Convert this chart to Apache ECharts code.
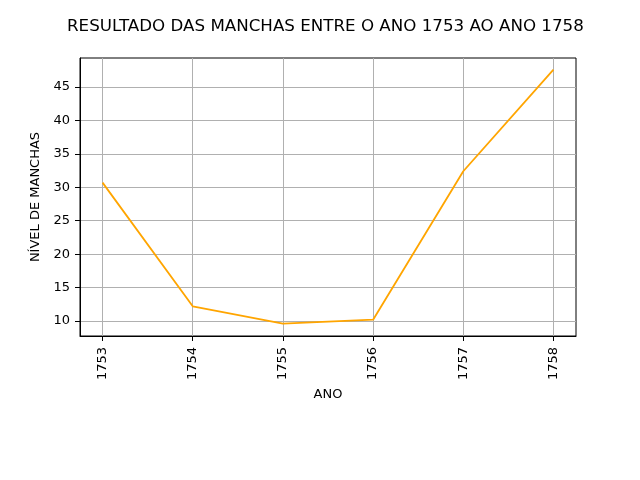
<!DOCTYPE html>
<html><head><meta charset="utf-8">
<script src="https://cdn.jsdelivr.net/npm/echarts@6/dist/echarts.min.js"></script>
<style>html,body{margin:0;padding:0;background:#fff}#c{width:640px;height:480px}</style>
</head><body><div id="c"></div>
<script>
const years = [1753, 1754, 1755, 1756, 1757, 1758];
const manchas = [30.7, 12.2, 9.6, 10.2, 32.4, 47.6];
const yTicks = [10, 15, 20, 25, 30, 35, 40, 45];
const titleText = 'RESULTADO DAS MANCHAS ENTRE O ANO 1753 AO ANO 1758';
const xName = 'ANO';
const yName = 'NÍVEL DE MANCHAS';

const font = 'DejaVu Sans';
const chart = echarts.init(document.getElementById('c'), null, {renderer: 'canvas'});
chart.setOption({
  animation: false,
  backgroundColor: '#fff',
  title: {text: titleText, left: 62, top: 13,
    textStyle: {fontFamily: font, fontSize: 16.7, fontWeight: 'normal', color: '#000'}},
  grid: {left: 80, right: 64, top: 58, bottom: 144, show: true, borderColor: '#000', borderWidth: 1, backgroundColor: 'transparent'},
  xAxis: {
    type: 'value', min: 1752.75, max: 1758.25,
    name: xName, nameLocation: 'middle', nameGap: 52,
    nameTextStyle: {fontFamily: font, fontSize: 13, color: '#000'},
    axisLine: {show: true, onZero: false, lineStyle: {color: '#000', width: 1}},
    axisTick: {show: true, length: 5, customValues: years, lineStyle: {color: '#000'}},
    axisLabel: {customValues: years, rotate: 90, margin: 11, fontFamily: font, fontSize: 13, color: '#000', formatter: v => String(v)},
    splitLine: {show: true, lineStyle: {color: '#b0b0b0', width: 1}}
  },
  yAxis: {
    type: 'value', min: 7.76, max: 49.34,
    name: yName, nameLocation: 'middle', nameGap: 33,
    nameTextStyle: {fontFamily: font, fontSize: 13, color: '#000'},
    axisLine: {show: true, onZero: false, lineStyle: {color: '#000', width: 1}},
    axisTick: {show: true, length: 5, customValues: yTicks, lineStyle: {color: '#000'}},
    axisLabel: {customValues: yTicks, margin: 10, fontFamily: font, fontSize: 13, color: '#000', formatter: v => String(v)},
    splitLine: {show: true, lineStyle: {color: '#b0b0b0', width: 1}}
  },
  series: [{
    type: 'line', data: years.map((y, i) => [y, manchas[i]]),
    showSymbol: false, symbol: 'none',
    lineStyle: {color: '#ffa500', width: 1.8}, itemStyle: {color: '#ffa500'}
  }]
});
</script></body></html>
